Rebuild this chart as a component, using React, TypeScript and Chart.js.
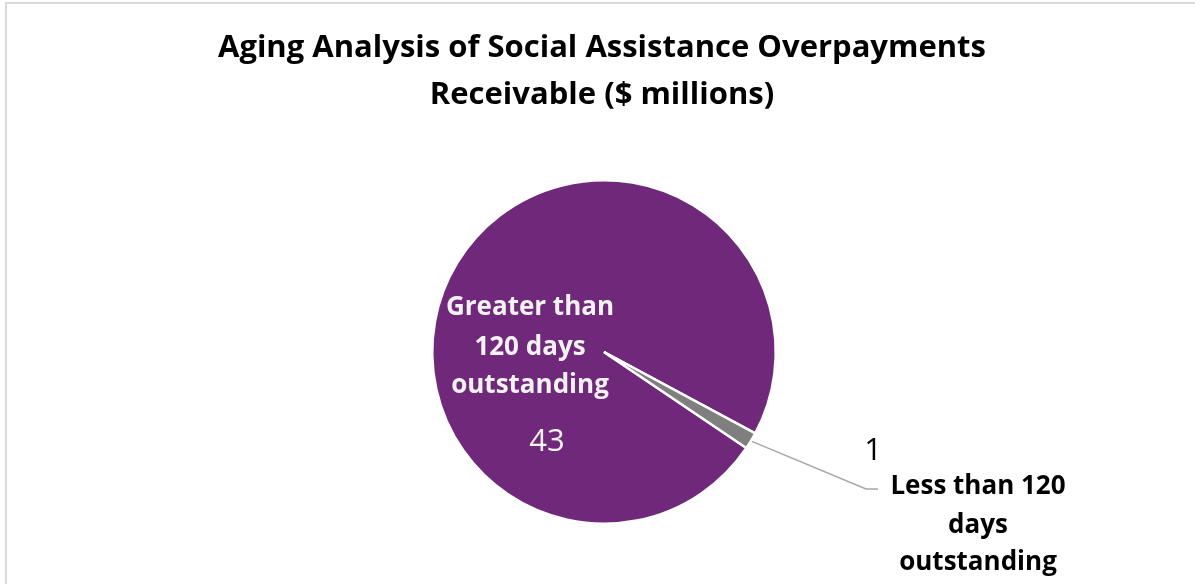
import React, { useEffect, useRef } from "react";
import { Chart, registerables } from "chart.js";

Chart.register(...registerables);

const titleLines = ["Aging Analysis of Social Assistance Overpayments", "Receivable ($ millions)"];
const categories = ["Greater than 120 days outstanding", "Less than 120 days outstanding"];
const values = [43.3, 0.7];
const valueLabels = ["43", "1"];
const categoryLines = [["Greater than", "120 days", "outstanding"], ["Less than 120", "days", "outstanding"]];
const sliceColors = ["#70297A", "#7F7F7F"];

const FONT = "'Open Sans', Lato, sans-serif";

const decorPlugin = {
  id: "decor",
  beforeDraw(chart: any) {
    const ctx = chart.ctx;
    ctx.save();
    ctx.fillStyle = "#ffffff";
    ctx.fillRect(0, 0, chart.width, chart.height);
    ctx.strokeStyle = "#D9D9D9";
    ctx.lineWidth = 2;
    ctx.beginPath();
    ctx.moveTo(6, chart.height);
    ctx.lineTo(6, 3);
    ctx.lineTo(chart.width, 3);
    ctx.stroke();
    ctx.restore();
  },
  afterDraw(chart: any) {
    const ctx = chart.ctx;
    ctx.save();
    // title
    ctx.fillStyle = "#000000";
    ctx.textAlign = "center";
    ctx.textBaseline = "middle";
    ctx.font = `bold 31px ${FONT}`;
    ctx.fillText(titleLines[0], 602, 48);
    ctx.fillText(titleLines[1], 602, 95);

    const meta = chart.getDatasetMeta(0);
    // purple slice labels
    ctx.fillStyle = "#F2F2F2";
    ctx.font = `bold 26px ${FONT}`;
    const pl = categoryLines[0];
    const py = [308, 348, 386];
    pl.forEach((t, i) => ctx.fillText(t, 530, py[i]));
    ctx.font = `31px ${FONT}`;
    ctx.fillText(valueLabels[0], 547, 442);

    // gray slice leader
    const arc = meta.data[1];
    const p = arc.getProps(["x", "y", "startAngle", "endAngle", "outerRadius"], true);
    const mid = (p.startAngle + p.endAngle) / 2;
    const sx = p.x + Math.cos(mid) * (p.outerRadius + 1);
    const sy = p.y + Math.sin(mid) * (p.outerRadius + 1);
    ctx.strokeStyle = "#A6A6A6";
    ctx.lineWidth = 1.5;
    ctx.beginPath();
    ctx.moveTo(sx, sy);
    ctx.lineTo(866, 489);
    ctx.lineTo(878, 489);
    ctx.stroke();

    ctx.fillStyle = "#000000";
    ctx.font = `31px ${FONT}`;
    ctx.fillText(valueLabels[1], 873, 451);
    ctx.font = `bold 26px ${FONT}`;
    const gl = categoryLines[1];
    const gy = [487, 526, 563];
    gl.forEach((t, i) => ctx.fillText(t, 978, gy[i]));
    ctx.restore();
  },
};

export default function App() {
  const ref = useRef<HTMLCanvasElement | null>(null);
  useEffect(() => {
    document.body.style.margin = "0";
    if (!ref.current) return;
    const chart = new Chart(ref.current, {
      type: "pie",
      data: {
        labels: categories,
        datasets: [
          {
            data: values,
            backgroundColor: sliceColors,
            borderColor: "#ffffff",
            borderWidth: 2.5,
          },
        ],
      },
      options: {
        responsive: false,
        animation: false,
        rotation: 124,
        layout: { padding: { top: 178, bottom: 58, left: 431, right: 418 } },
        plugins: {
          legend: { display: false },
          title: { display: false },
          tooltip: { enabled: false },
        },
      },
      plugins: [decorPlugin],
    });
    return () => chart.destroy();
  }, []);
  return <canvas ref={ref} width={1195} height={584} style={{ display: "block" }} />;
}
